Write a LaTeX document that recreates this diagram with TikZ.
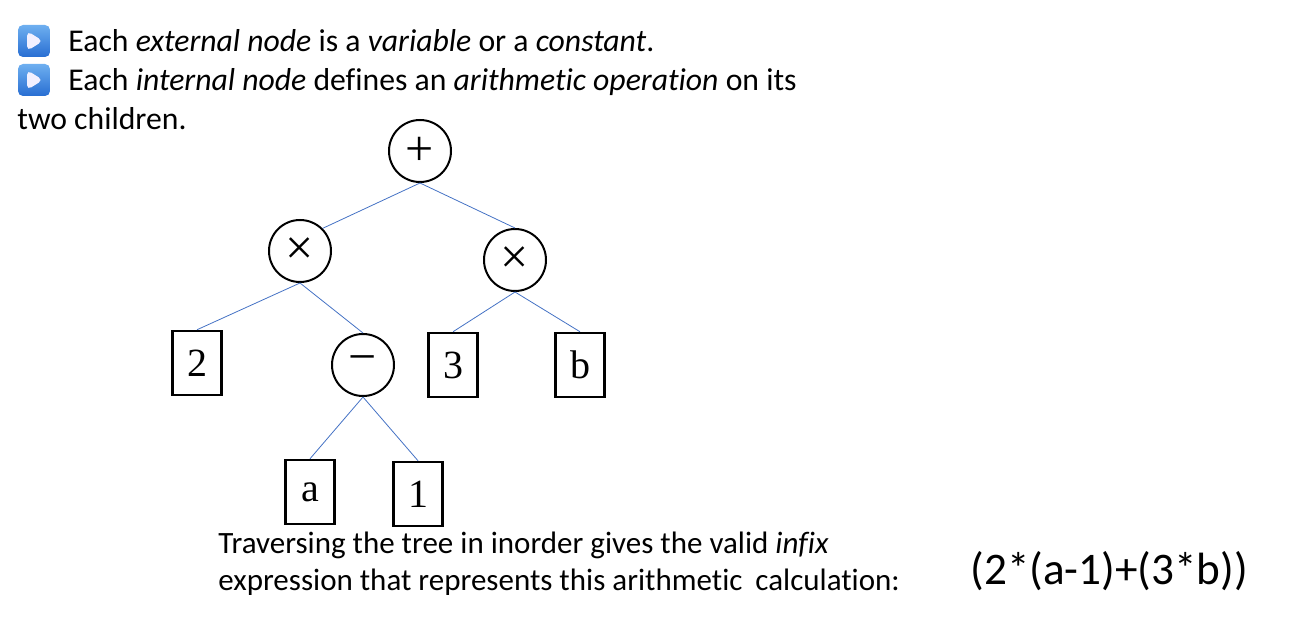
\documentclass[tikz,border=0pt]{standalone}
\usepackage{fontspec}
\setmainfont[Ligatures=NoCommon]{Carlito}
\newfontfamily\treefont{Liberation Serif}
\usepackage{xcolor}
\definecolor{edgeblue}{RGB}{68, 114, 196}
\definecolor{bulletlight}{RGB}{110, 175, 240}
\definecolor{bulletdark}{RGB}{40, 110, 210}
\definecolor{bullettri}{RGB}{242, 240, 255}

\begin{document}
\begin{tikzpicture}[
    x=0.5pt, y=-0.5pt,
    font=\fontsize{15.5pt}{18pt}\selectfont,
    op/.style={circle, draw=black, line width=1pt, minimum size=31pt, inner sep=0pt,
               font=\treefont\fontsize{25pt}{25pt}\selectfont},
    leaf/.style={rectangle, draw=black, line width=1.25pt, minimum width=24.5pt,
                 minimum height=32pt, inner sep=0pt,
                 font=\treefont\fontsize{20pt}{20pt}\selectfont},
    edge/.style={draw=edgeblue, line width=0.4pt},
    bulletbox/.style={minimum size=16pt, inner sep=0pt, rounded corners=2.5pt,
                      top color=bulletlight, bottom color=bulletdark,
                      path picture={\fill[bullettri] (path picture bounding box.center)
                          ++(-3.5pt,5pt) -- ++(8pt,-5pt) -- ++(-8pt,-5pt) -- cycle;}},
    txt/.style={anchor=base west, inner sep=0pt},
    bigtxt/.style={txt, font=\fontsize{15.85pt}{18pt}\selectfont}
]
    \useasboundingbox (0,0) rectangle (1299,620);

    % Bullet text
    \node[bulletbox] (bul1) at (34, 41) {};
    \node[bulletbox] (bul2) at (34, 80) {};
    \node[bigtxt] (line1) at (68, 52) {Each \textit{external node} is a \textit{variable} or a \textit{constant}.};
    \node[bigtxt] (line2) at (68, 91) {Each \textit{internal node} defines an \textit{arithmetic operation} on its};
    \node[bigtxt] (line3) at (17, 130) {two children.};

    % Operator nodes
    \node[op] (plus)   at (420, 151) {+};
    \node[op] (timesL) at (300, 251) {×};
    \node[op] (timesR) at (515, 260) {×};
    \node[op] (minus)  at (363, 365) {−};

    % Leaves
    \node[leaf] (two)   at (197, 363) {2};
    \node[leaf] (three) at (453, 365) {3};
    \node[leaf] (bvar)  at (580, 365) {b};
    \node[leaf] (avar)  at (310, 492) {a};
    \node[leaf] (one)   at (418, 494) {1};

    % Edges
    \draw[edge] (plus.south) -- (timesL.45);
    \draw[edge] (plus.south) -- (timesR.north);
    \draw[edge] (timesL.south) -- (two.north);
    \draw[edge] (timesL.south) -- (minus.north);
    \draw[edge] (timesR.south) -- (three.north);
    \draw[edge] (timesR.south) -- (bvar.north);
    \draw[edge] (minus.south) -- (avar.north);
    \draw[edge] (minus.south) -- (one.north);

    % Caption and result
    \node[txt] (cap1) at (218, 553) {Traversing the tree in inorder gives the valid \textit{infix}};
    \node[txt] (cap2) at (218, 590) {expression that represents this arithmetic\hspace{3pt} calculation:};
    \node[txt, font=\fontsize{22.6pt}{26pt}\selectfont] (infix) at (970, 584) {(2*(a-1)+(3*b))};

\end{tikzpicture}
\end{document}
